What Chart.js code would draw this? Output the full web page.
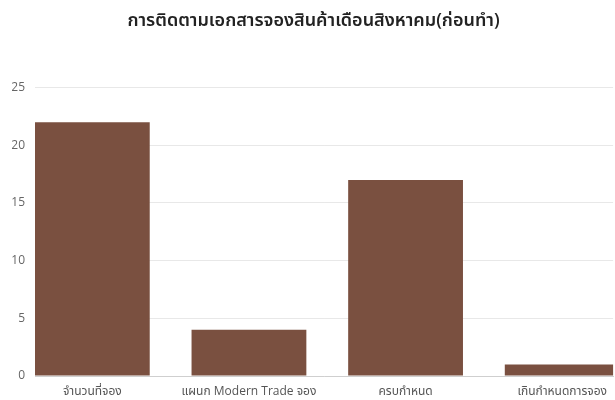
<!DOCTYPE html>
<html>
<head>
<meta charset="utf-8">
<style>
  html, body { margin: 0; padding: 0; background: #ffffff; overflow: hidden; }
  #wrap { width: 615px; height: 400px; position: relative; }
</style>
<script src="https://cdn.jsdelivr.net/npm/chart.js@4/dist/chart.umd.min.js"></script>
</head>
<body>
<div id="wrap"><canvas id="chart" width="615" height="400"></canvas></div>
<script>
// Booking document tracking, August (before improvement)
const chartTitle = 'การติดตามเอกสารจองสินค้าเดือนสิงหาคม(ก่อนทำ)';
const categories = ['จำนวนที่จอง', 'แผนก Modern Trade จอง', 'ครบกำหนด', 'เกินกำหนดการจอง'];
const bookingCounts = [22, 4, 17, 1];
const yTicks = [0, 5, 10, 15, 20, 25];

const barColor = '#7a5040';
const fontFamily = "'Open Sans', 'Noto Sans', 'Noto Sans Thai', Tahoma, sans-serif";

// Bars sit on a numeric x axis (index of each category) so the
// first bar can start right at the plot's left edge.
const points = bookingCounts.map((v, i) => ({ x: i, y: v }));

new Chart(document.getElementById('chart'), {
  type: 'bar',
  data: {
    datasets: [{
      data: points,
      backgroundColor: barColor,
      borderWidth: 0,
      barPercentage: 1,
      categoryPercentage: 0.733
    }]
  },
  options: {
    responsive: false,
    animation: false,
    layout: { padding: { left: 12, right: 0, top: 10, bottom: 0 } },
    plugins: {
      legend: { display: false },
      tooltip: { enabled: false },
      title: {
        display: true,
        text: chartTitle,
        color: '#222222',
        font: { family: fontFamily, size: 18, weight: '600' },
        padding: { top: 0, bottom: 56 }
      }
    },
    scales: {
      x: {
        type: 'linear',
        offset: false,
        min: -0.366,
        max: 3.325,
        grid: { display: false, drawTicks: false },
        border: { display: true, color: '#cfcfcf', width: 1 },
        afterBuildTicks: (scale) => {
          scale.ticks = categories.map((_, i) => ({ value: i }));
        },
        afterFit: (scale) => { scale.height = 24; },
        ticks: {
          autoSkip: false,
          maxRotation: 0,
          padding: 8,
          color: '#555555',
          font: { family: fontFamily, size: 12 },
          callback: (v) => categories[v]
        }
      },
      y: {
        min: 0,
        max: 25,
        afterBuildTicks: (scale) => {
          scale.ticks = yTicks.map(v => ({ value: v }));
        },
        afterFit: (scale) => { scale.width = 23; },
        grid: { color: '#e8e8e8', drawTicks: false },
        border: { display: false },
        ticks: {
          padding: 10,
          color: '#666666',
          font: { family: fontFamily, size: 12 }
        }
      }
    }
  }
});
</script>
</body>
</html>
